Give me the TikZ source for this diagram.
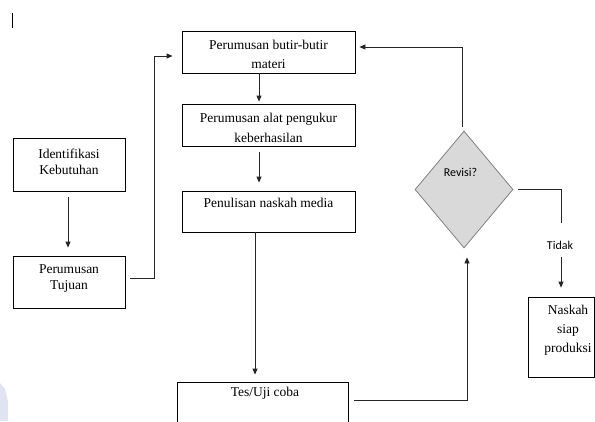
\documentclass[tikz,border=0pt]{standalone}
\usepackage{fontspec}
\setmainfont{Liberation Serif}
\newfontfamily\carl{Carlito}
\usetikzlibrary{shapes.geometric,arrows.meta,calc}
\definecolor{dfill}{RGB}{217,217,217}
\definecolor{dline}{RGB}{128,128,128}
\definecolor{wmark}{RGB}{224,227,241}
\begin{document}
\begin{tikzpicture}[x=1pt,y=-1pt,
  box/.style={draw=black, line width=0.8pt, inner sep=0pt},
  txt/.style={align=center, inner sep=0pt},
  arr/.style={line width=0.8pt, draw=black!85, -{Triangle[length=6pt,width=5pt]}},
  con/.style={line width=0.8pt, draw=black!85},
  sans/.style={font=\carl\fontsize{12}{14}\selectfont, inner sep=0pt}]
\useasboundingbox (0,0) rectangle (595,421);
\clip (0,0) rectangle (595,421);
\fill[white] (0,0) rectangle (595,421);
\fill[wmark] (0,383) -- (5,389) -- (8,401) -- (8,421) -- (0,421) -- cycle;
\draw[line width=0.8pt] (12,13) -- (12,28);
% boxes
\node[box, minimum width=173pt, minimum height=42pt] (b1) at (268.5,52) {};
\node[box, minimum width=173pt, minimum height=42pt] (b2) at (268.5,125) {};
\node[box, minimum width=173pt, minimum height=41pt] (b3) at (268.5,211.5) {};
\node[box, minimum width=112pt, minimum height=53pt] (id) at (69,164.5) {};
\node[box, minimum width=112pt, minimum height=52pt] (tuj) at (69,282) {};
\node[box, minimum width=171pt, minimum height=60pt] (tes) at (262.5,412) {};
\node[box, minimum width=66pt, minimum height=80pt] (nk) at (561,337) {};
\node[diamond, draw=dline, fill=dfill, line width=0.8pt, inner sep=0pt,
      minimum width=98pt, minimum height=117pt] (d) at (464,189.5) {};
% texts
\node[txt, font=\fontsize{13.5}{19}\selectfont] (tb1) at (268.5,54) {Perumusan butir-butir\\materi};
\node[txt, font=\fontsize{13.5}{20}\selectfont] (tb2) at (268.5,127.5) {Perumusan alat pengukur\\keberhasilan};
\node[txt, font=\fontsize{13.5}{19}\selectfont] (tb3) at (268.5,203) {Penulisan naskah media};
\node[txt, font=\fontsize{13.5}{15.5}\selectfont] (tid1) at (69,162) {Identifikasi\\Kebutuhan};
\node[txt, font=\fontsize{13.5}{16}\selectfont] (ttuj) at (69,278.5) {Perumusan\\Tujuan};
\node[txt, font=\fontsize{13.5}{19}\selectfont] (ttes) at (265,393) {Tes/Uji coba};
\node[txt, font=\fontsize{13.5}{19}\selectfont] (tnk) at (568,330) {Naskah\\siap\\produksi};
\node[sans] (trev) at (460.5,172) {Revisi?};
\node[sans] (tid) at (560,245) {Tidak};
% connectors
\draw[arr] ($(id.south)+(-1,6)$) -- ($(tuj.north)+(-1,-8)$);
\draw[arr] ($(tuj.east)+(5,-4)$) -- ++(24,0) |- ($(b1.west)+(-9,4)$);
\draw[arr] ($(b1.south)+(-9.5,0)$) -- ($(b2.north)+(-9.5,-2)$);
\draw[arr] ($(b2.south)+(-9.5,6)$) -- ($(b3.north)+(-9.5,-8)$);
\draw[arr] ($(b3.south)+(-13.5,0)$) -- ($(tes.north)+(-7.5,-7)$);
\draw[arr] ($(tes.east)+(6,-12)$) -| ($(d.south)+(3,9)$);
\draw[arr] ($(d.north)+(-2,-4)$) |- ($(b1.east)+(4,-5)$);
\coordinate (ta) at (561,223);
\coordinate (tb) at (561,257);
\draw[con] ($(d.east)+(5,0)$) -| (ta);
\draw[arr] (tb) -- ($(nk.north)+(0,-9)$);
\end{tikzpicture}
\end{document}
